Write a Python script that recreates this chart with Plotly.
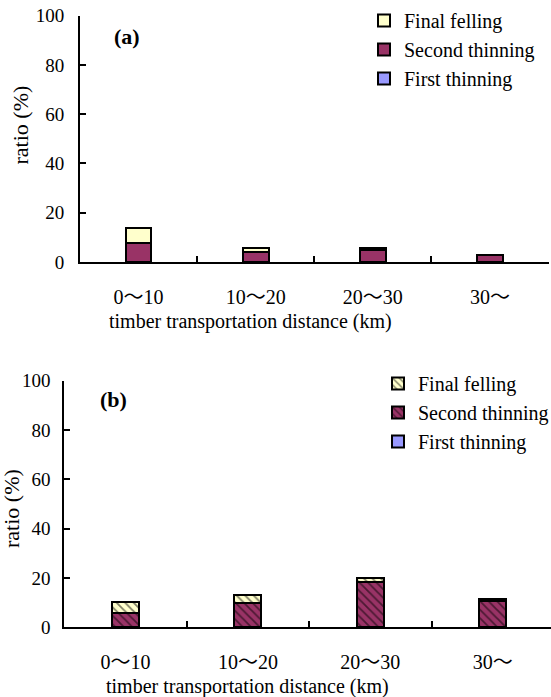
import plotly.graph_objects as go

W, H = 551, 697

categories = ["0〜10", "10〜20", "20〜30", "30〜"]

a_first = [0.0, 0.0, 0.0, 0.0]
a_second = [7.6, 4.0, 5.0, 3.0]
a_final = [6.4, 1.7, 0.7, 0.0]

b_first = [0.0, 0.0, 0.0, 0.0]
b_second = [5.9, 9.7, 18.4, 10.6]
b_final = [4.5, 3.5, 1.5, 1.0]

y_ticks = [0, 20, 40, 60, 80, 100]

C_FIRST = "#9999FF"
C_SECOND = "#993366"
C_FINAL = "#FFFFCC"
FONT = "Liberation Serif"
CAT_FONT = "Liberation Serif, Noto Sans CJK JP"

def px_x(v):
    return v / W

def px_y(v):
    return 1 - v / H

fig = go.Figure()

bar_w = 0.22
line = dict(color="black", width=2)

# Panel (a)
for name, vals, col in [("First thinning", a_first, C_FIRST),
                        ("Second thinning", a_second, C_SECOND),
                        ("Final felling", a_final, C_FINAL)]:
    fig.add_trace(go.Bar(x=categories, y=vals, name=name, width=bar_w,
                         marker=dict(color=col, line=line),
                         xaxis="x", yaxis="y", legend="legend"))

# Panel (b) with hatching
for name, vals, col, hatch in [("First thinning", b_first, C_FIRST, ""),
                               ("Second thinning", b_second, C_SECOND, "\\"),
                               ("Final felling", b_final, C_FINAL, "\\")]:
    pat = dict(shape=hatch, fgcolor="black", bgcolor=col, size=6, solidity=0.3) if hatch else dict(shape="")
    fig.add_trace(go.Bar(x=categories, y=vals, name=name, width=bar_w,
                         marker=dict(color=col, line=line, pattern=pat),
                         xaxis="x2", yaxis="y2", legend="legend2"))

xcommon = dict(type="category", tickson="boundaries", ticks="inside", ticklen=6,
               tickwidth=2, tickcolor="black", showline=True, linewidth=2,
               linecolor="black", showgrid=False, zeroline=False,
               tickfont=dict(family=CAT_FONT, size=20, color="black"),
               ticklabelstandoff=16)
ycommon = dict(range=[0, 100], tickvals=y_ticks, ticks="inside", ticklen=6,
               tickwidth=2, tickcolor="black", showline=True, linewidth=2,
               linecolor="black", showgrid=False, zeroline=False,
               tickfont=dict(family=FONT, size=19, color="black"))

fig.update_layout(
    width=W, height=H,
    margin=dict(l=0, r=0, t=0, b=0, autoexpand=False),
    paper_bgcolor="white", plot_bgcolor="white",
    barmode="stack",
    font=dict(family=FONT, color="black"),
    xaxis=dict(domain=[px_x(80), px_x(548.5)], range=[-0.5, 3.5], anchor="y", **xcommon),
    yaxis=dict(domain=[px_y(262), px_y(15.7)], anchor="x", ticklabelstandoff=10, **ycommon),
    xaxis2=dict(domain=[px_x(64.3), 1.0], range=[-0.5, 3.476], anchor="y2", **xcommon),
    yaxis2=dict(domain=[px_y(627.3), px_y(380.7)], anchor="x2", ticklabelstandoff=8, **ycommon),
    legend=dict(x=px_x(364), y=px_y(1), xanchor="left", yanchor="top",
                traceorder="reversed", bgcolor="rgba(0,0,0,0)",
                font=dict(family=FONT, size=20, color="black")),
    legend2=dict(x=px_x(378), y=px_y(364), xanchor="left", yanchor="top",
                 traceorder="reversed", bgcolor="rgba(0,0,0,0)",
                 font=dict(family=FONT, size=20, color="black")),
    showlegend=True,
)

annots = [
    dict(text="<b>(a)</b>", x=px_x(126.5), y=px_y(36.7), size=22),
    dict(text="<b>(b)</b>", x=px_x(113), y=px_y(399.3), size=22),
    dict(text="ratio (%)", x=px_x(20.5), y=px_y(125), size=22, angle=-90),
    dict(text="ratio (%)", x=px_x(12), y=px_y(509), size=22, angle=-90),
    dict(text="timber transportation distance (km)", x=px_x(250), y=px_y(321), size=20),
    dict(text="timber transportation distance (km)", x=px_x(247.5), y=px_y(686), size=20),
]
for a in annots:
    fig.add_annotation(text=a["text"], x=a["x"], y=a["y"], xref="paper", yref="paper",
                       xanchor="center", yanchor="middle", showarrow=False,
                       textangle=a.get("angle", 0),
                       font=dict(family=FONT, size=a["size"], color="black"))

fig.write_html("out.html")
